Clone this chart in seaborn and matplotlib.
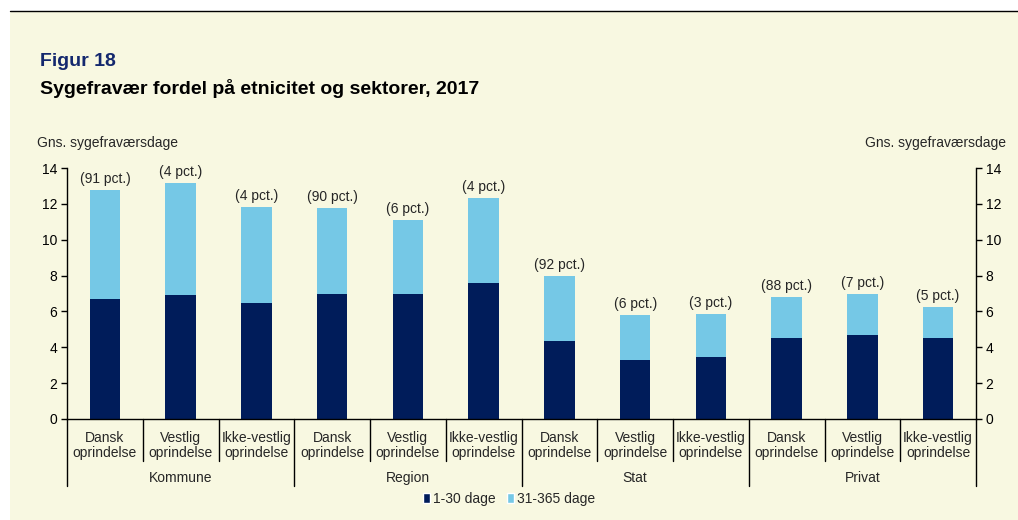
import pandas as pd
import numpy as np
import matplotlib
matplotlib.use('Agg')
import matplotlib.pyplot as plt
import seaborn as sns
from matplotlib.patches import Rectangle, Patch
from matplotlib.lines import Line2D
import matplotlib.transforms as mtrans

sns.set_style('ticks')
plt.rcParams['font.family'] = ['Liberation Sans', 'DejaVu Sans']

# data
sektorer = ['Kommune', 'Region', 'Stat', 'Privat']
grupper = ['Dansk\noprindelse', 'Vestlig\noprindelse', 'Ikke-vestlig\noprindelse']
kort = [6.68, 6.92, 6.48, 6.96, 6.98, 7.58, 4.34, 3.29, 3.44, 4.52, 4.69, 4.52]     # 1-30 dage
lang = [6.11, 6.24, 5.34, 4.80, 4.11, 4.74, 3.61, 2.50, 2.42, 2.29, 2.29, 1.73]     # 31-365 dage
andel = ['(91 pct.)', '(4 pct.)', '(4 pct.)', '(90 pct.)', '(6 pct.)', '(4 pct.)',
         '(92 pct.)', '(6 pct.)', '(3 pct.)', '(88 pct.)', '(7 pct.)', '(5 pct.)']

moerk = '#001C5A'
lys = '#75C8E6'
creme = '#F8F8E1'
navy = '#14286E'

df = pd.DataFrame({'pos': range(12), 'kort': kort, 'lang': lang})
df['total'] = df['kort'] + df['lang']

W, H = 1018, 520
fig = plt.figure(figsize=(W / 100, H / 100), dpi=100, facecolor='white')
fig.patches.append(Rectangle((10 / W, 0), 1, (H - 12) / H, transform=fig.transFigure,
                             facecolor=creme, edgecolor='none', zorder=-10))
fig.add_artist(Line2D([10 / W, 1], [1 - 11 / H] * 2, color='black', lw=1))

ax = fig.add_axes([67 / W, 101 / H, 909 / W, 251 / H])
ax.set_facecolor('none')

sns.barplot(data=df, x='pos', y='total', color=lys, width=0.4, saturation=1,
            linewidth=0, ax=ax)
sns.barplot(data=df, x='pos', y='kort', color=moerk, width=0.4, saturation=1,
            linewidth=0, ax=ax)

for i, row in df.iterrows():
    ax.annotate(andel[i], (row['pos'], row['total']), xytext=(0, 3),
                textcoords='offset points', ha='center', va='bottom', fontsize=10)

ax.set_xlim(-0.5, 11.5)
ax.set_ylim(0, 14)
ax.set_yticks(range(0, 15, 2))
ax.set_xlabel('')
ax.set_ylabel('')
ax.set_xticks(range(12))
ax.set_xticklabels(grupper * 4, fontsize=10, linespacing=1.15)
ax.tick_params(axis='x', length=0, pad=8.5)
ax.tick_params(axis='y', direction='out', length=4, width=1, colors='black',
               labelsize=10, left=True, right=True, labelleft=True, labelright=True)
ax.tick_params(axis='y', which='both', pad=3)
for s in ['left', 'bottom', 'right']:
    ax.spines[s].set_visible(True)
    ax.spines[s].set_color('black')
    ax.spines[s].set_linewidth(1)
ax.spines['top'].set_visible(False)

# category and group separators below the axis
tr = mtrans.blended_transform_factory(ax.transData, ax.transAxes)
for k in range(13):
    x = k - 0.5
    if k % 3 == 0:
        ax.plot([x, x], [0, -67 / 251], color='black', lw=1, transform=tr, clip_on=False)
    else:
        ax.plot([x, x], [0, -42 / 251], color='black', lw=1, transform=tr, clip_on=False)
for j, s in enumerate(sektorer):
    ax.text(j * 3 + 1, -59 / 251, s, transform=tr, ha='center', va='center', fontsize=10)

fig.text(37 / W, 1 - 143 / H, 'Gns. sygefraværsdage', ha='left', va='center', fontsize=10)
fig.text(1006 / W, 1 - 143 / H, 'Gns. sygefraværsdage', ha='right', va='center', fontsize=10)
fig.text(40 / W, 1 - 61 / H, 'Figur 18', ha='left', va='center', fontsize=14,
         fontweight='bold', color=navy)
fig.text(40 / W, 1 - 88 / H, 'Sygefravær fordel på etnicitet og sektorer, 2017',
         ha='left', va='center', fontsize=14, fontweight='bold', color='black')

handles = [Patch(facecolor=moerk, label='1-30 dage'), Patch(facecolor=lys, label='31-365 dage')]
fig.legend(handles=handles, loc='center', bbox_to_anchor=(0.5, 1 - 499 / H), ncol=2,
           frameon=False, fontsize=10, handlelength=0.5, handleheight=0.75,
           handletextpad=0.2, columnspacing=0.8)

fig.savefig('out.png', dpi=100, facecolor=fig.get_facecolor())
